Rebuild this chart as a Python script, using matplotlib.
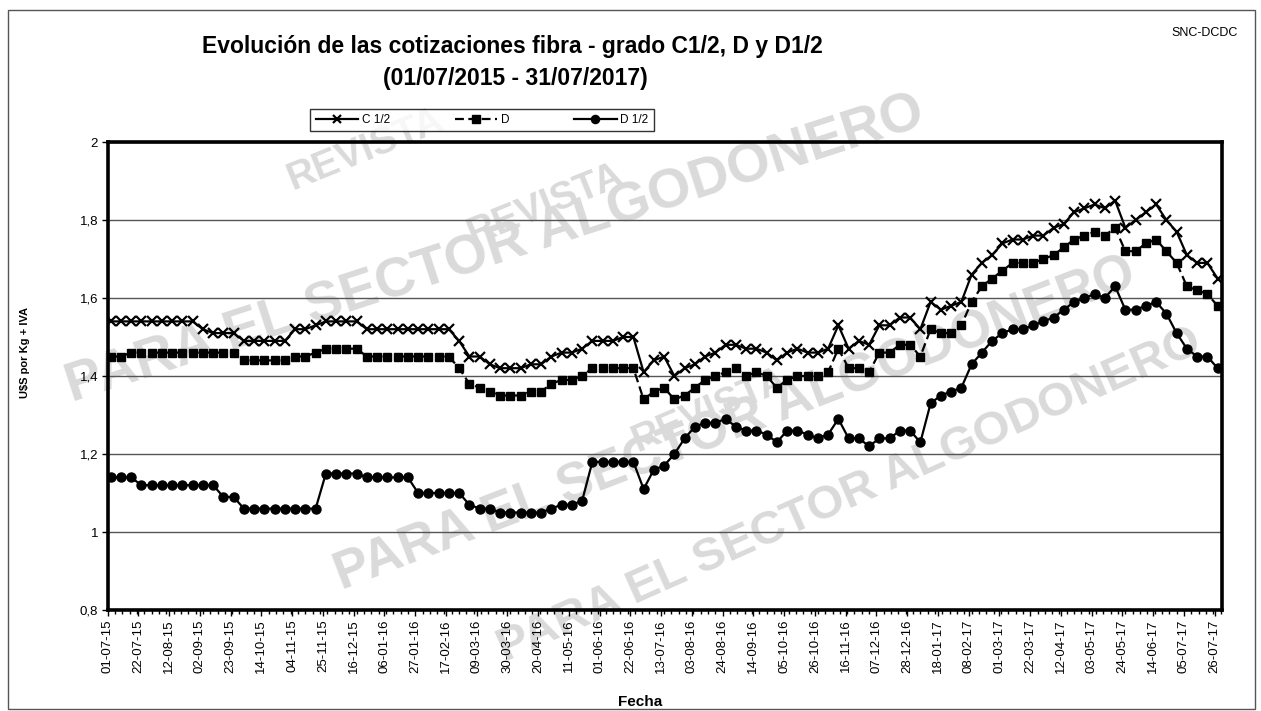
import matplotlib
matplotlib.use("Agg")
import matplotlib.pyplot as plt
import matplotlib.patches as mpatches
import numpy as np
import pandas as pd
from matplotlib.ticker import FixedLocator, FuncFormatter, MultipleLocator

plt.rcParams['font.family'] = ['Liberation Sans Narrow', 'Liberation Sans', 'DejaVu Sans']

# ---------------- data ----------------
start_date = "2015-07-01"
first_quote = "2015-07-03"
n_weeks = 109

c12 = ([1.54] * 9 + [1.52, 1.51, 1.51, 1.51] + [1.49] * 5 + [1.52, 1.52, 1.53] + [1.54] * 4 +
       [1.52] * 9 +
       [1.49, 1.45, 1.45, 1.43, 1.42, 1.42, 1.42, 1.43, 1.43, 1.45, 1.46, 1.46, 1.47, 1.49, 1.49,
        1.49, 1.50, 1.50, 1.41, 1.44, 1.45, 1.40, 1.42, 1.43, 1.45, 1.46, 1.48, 1.48, 1.47, 1.47,
        1.46, 1.44, 1.46, 1.47, 1.46, 1.46, 1.47, 1.53, 1.47, 1.49, 1.48, 1.53, 1.53, 1.55, 1.55,
        1.52, 1.59, 1.57, 1.58, 1.59, 1.66, 1.69, 1.71, 1.74, 1.75, 1.75, 1.76, 1.76, 1.78, 1.79,
        1.82, 1.83, 1.84, 1.83, 1.85, 1.78, 1.80, 1.82, 1.84, 1.80, 1.77, 1.71, 1.69, 1.69, 1.65])

d = ([1.45] * 2 + [1.46] * 11 + [1.44] * 5 + [1.45, 1.45, 1.46] + [1.47] * 4 + [1.45] * 9 +
     [1.42, 1.38, 1.37, 1.36, 1.35, 1.35, 1.35, 1.36, 1.36, 1.38, 1.39, 1.39, 1.40,
      1.42, 1.42, 1.42, 1.42, 1.42,
      1.34, 1.36, 1.37, 1.34, 1.35, 1.37, 1.39, 1.40, 1.41, 1.42, 1.40, 1.41, 1.40, 1.37, 1.39,
      1.40, 1.40, 1.40, 1.41, 1.47, 1.42, 1.42, 1.41, 1.46, 1.46, 1.48, 1.48, 1.45, 1.52, 1.51,
      1.51, 1.53, 1.59, 1.63, 1.65, 1.67, 1.69, 1.69, 1.69, 1.70, 1.71, 1.73, 1.75, 1.76, 1.77,
      1.76, 1.78, 1.72, 1.72, 1.74, 1.75, 1.72, 1.69, 1.63, 1.62, 1.61, 1.58])

d12 = ([1.14] * 3 + [1.12] * 8 + [1.09] * 2 + [1.06] * 8 + [1.15] * 4 + [1.14] * 5 + [1.10] * 5 +
       [1.07, 1.06, 1.06] + [1.05] * 5 +
       [1.06, 1.07, 1.07, 1.08, 1.18, 1.18, 1.18, 1.18, 1.18, 1.11, 1.16, 1.17, 1.20, 1.24, 1.27,
        1.28, 1.28, 1.29, 1.27, 1.26, 1.26, 1.25, 1.23, 1.26, 1.26, 1.25, 1.24, 1.25, 1.29, 1.24,
        1.24, 1.22, 1.24, 1.24, 1.26, 1.26, 1.23, 1.33, 1.35, 1.36, 1.37, 1.43, 1.46, 1.49, 1.51,
        1.52, 1.52, 1.53, 1.54, 1.55, 1.57, 1.59, 1.60, 1.61, 1.60, 1.63, 1.57, 1.57, 1.58, 1.59,
        1.56, 1.51, 1.47, 1.45, 1.45, 1.42])

series_names = ["C 1/2", "D", "D 1/2"]
y_ticks = [0.8, 1.0, 1.2, 1.4, 1.6, 1.8, 2.0]

t0 = pd.Timestamp(start_date)
dates = pd.date_range(first_quote, periods=n_weeks, freq="7D")
xdays = np.array([(dt - t0).days for dt in dates])
tick_dates = pd.date_range(start_date, "2017-07-26", freq="21D")
tick_days = [(dt - t0).days for dt in tick_dates]
tick_labels = [dt.strftime("%d-%m-%y") for dt in tick_dates]
end_day = (pd.Timestamp("2017-07-31") - t0).days

# ---------------- figure ----------------
W, H = 1261, 711
fig = plt.figure(figsize=(W / 100, H / 100), dpi=100)
fig.patch.set_facecolor("white")

# outer border
fig.add_artist(mpatches.Rectangle((8 / W, 2 / H), (W - 14) / W, (H - 12) / H,
                                  transform=fig.transFigure, fill=False,
                                  edgecolor="#555555", linewidth=1.0))

# watermark
wm_color = "#dadada"
wm_kw = dict(color=wm_color, fontweight="bold", ha="center", va="center",
             family=['Liberation Sans', 'DejaVu Sans'], zorder=-5)
fig.text(365 / W, 1 - 150 / H, "REVISTA", fontsize=28, rotation=22, **wm_kw)
fig.text(495 / W, 1 - 250 / H, "PARA EL SECTOR ALGODONERO", fontsize=40, rotation=18, **wm_kw)
fig.text(545 / W, 1 - 205 / H, "REVISTA", fontsize=28, rotation=22, **wm_kw)
fig.text(735 / W, 1 - 425 / H, "PARA EL SECTOR ALGODONERO", fontsize=38, rotation=21, **wm_kw)
fig.text(710 / W, 1 - 410 / H, "REVISTA", fontsize=28, rotation=23, **wm_kw)
fig.text(850 / W, 1 - 495 / H, "PARA EL SECTOR ALGODONERO", fontsize=34, rotation=24, **wm_kw)

left, right, top, bottom = 107.7, 1222, 142, 610
ax = fig.add_axes([left / W, 1 - bottom / H, (right - left) / W, (bottom - top) / H])
ax.set_facecolor("none")
ax.set_zorder(1)

lc1, = ax.plot(xdays, c12, color="black", lw=1.6, marker="x", ms=6.5, mew=1.6, label=series_names[0])
ld, = ax.plot(xdays, d, color="black", lw=1.6, ls=(0, (4, 2)), marker="s", ms=6,
              label=series_names[1])
ld12, = ax.plot(xdays, d12, color="black", lw=1.6, marker="o", ms=6.5, label=series_names[2])

ax.set_xlim(0, end_day)
ax.set_ylim(0.8, 2.0)
ax.yaxis.set_major_locator(FixedLocator(y_ticks))
ax.yaxis.set_major_formatter(FuncFormatter(lambda v, p: ("%g" % round(v, 2)).replace(".", ",")))
ax.grid(axis="y", color="#555555", lw=1.0)
ax.set_axisbelow(True)

ax.xaxis.set_major_locator(FixedLocator(tick_days))
ax.set_xticklabels(tick_labels, rotation=90, fontsize=9.5)
ax.xaxis.set_minor_locator(MultipleLocator(5))
ax.tick_params(axis="x", which="major", length=4, width=1, direction="out", pad=3)
ax.tick_params(axis="x", which="minor", length=3, width=1, direction="out")
ax.tick_params(axis="y", length=4, width=1, labelsize=9.5, pad=3)

for sp in ax.spines.values():
    sp.set_linewidth(2.6)
    sp.set_color("black")

ax.set_ylabel(r"U\$S por Kg + IVA", fontsize=8, fontweight="bold")
ax.yaxis.set_label_coords(-0.07, 0.55)

fig.text(640 / W, 1 - 702 / H, "Fecha", fontsize=11, fontweight="bold", ha="center", va="center")

fig.text(512 / W, 1 - 46 / H, "Evolución de las cotizaciones fibra - grado C1/2, D y D1/2",
         fontsize=16.5, fontweight="bold", ha="center", va="center")
fig.text(515 / W, 1 - 79 / H, "(01/07/2015 - 31/07/2017)",
         fontsize=16.5, fontweight="bold", ha="center", va="center")
fig.text(1205 / W, 1 - 33 / H, "SNC-DCDC", fontsize=9, ha="center", va="center")

leg = fig.legend(handles=[lc1, ld, ld12], loc="center", bbox_to_anchor=(482 / W, 1 - 120 / H),
                 ncol=3, fontsize=8.5, frameon=True, fancybox=False, edgecolor="black",
                 handlelength=3.6, columnspacing=5.5, handletextpad=0.3, borderpad=0.45,
                 markerscale=0.9)
leg.get_frame().set_linewidth(1.0)

fig.savefig("out.png", dpi=100)
